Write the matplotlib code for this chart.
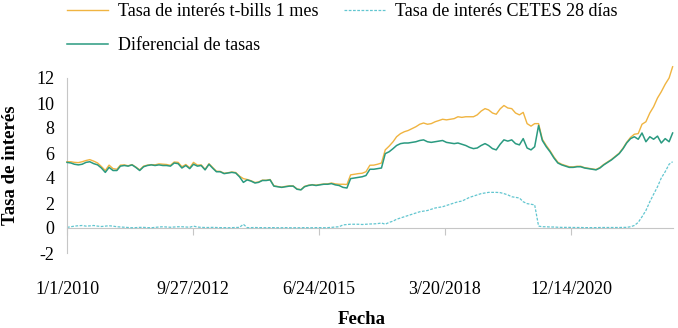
import matplotlib
matplotlib.use("Agg")
import matplotlib.pyplot as plt
import pandas as pd

# ---- data (monthly, from Jan 2010) ----
diferencial = [
    5.25, 5.2, 5.1, 5.05, 5.1, 5.25, 5.3, 5.15, 5.05, 4.8,
    4.45, 4.85, 4.6, 4.6, 4.95, 5.0, 4.95, 5.05, 4.85, 4.6,
    4.9, 5.0, 5.05, 5.0, 5.05, 5.0, 5.0, 4.95, 5.2, 5.15,
    4.8, 5.0, 4.75, 5.1, 4.95, 5.0, 4.65, 5.1, 4.8, 4.5,
    4.5, 4.35, 4.4, 4.45, 4.4, 4.1, 3.65, 3.85, 3.75, 3.6,
    3.65, 3.8, 3.8, 3.85, 3.35, 3.3, 3.25, 3.3, 3.35, 3.35,
    3.1, 3.05, 3.3, 3.4, 3.45, 3.4, 3.45, 3.5, 3.5, 3.55,
    3.45, 3.4, 3.25, 3.2, 3.95, 4.0, 4.05, 4.1, 4.2, 4.7,
    4.7, 4.75, 4.8, 5.95, 6.1, 6.35, 6.6, 6.75, 6.8, 6.8,
    6.85, 6.9, 7.0, 7.05, 6.9, 6.85, 6.9, 6.95, 7.0, 6.85,
    6.8, 6.75, 6.8, 6.7, 6.6, 6.45, 6.35, 6.4, 6.6, 6.75,
    6.6, 6.35, 6.25, 6.7, 7.05, 6.95, 7.05, 6.75, 6.65, 7.15,
    6.4, 6.25, 6.5, 8.2, 7.0, 6.5, 6.1, 5.6, 5.2, 5.05,
    4.95, 4.85, 4.85, 4.9, 4.9, 4.8, 4.75, 4.7, 4.65, 4.8,
    5.05, 5.25, 5.45, 5.7, 5.95, 6.35, 6.8, 7.15, 7.3, 7.1,
    7.6, 6.9, 7.3, 7.1, 7.35, 6.8, 7.15, 6.9, 7.6,
]

cetes_28 = [
    0.05, 0.1, 0.15, 0.18, 0.2, 0.15, 0.17, 0.2, 0.15, 0.12,
    0.15, 0.18, 0.15, 0.1, 0.08, 0.05, 0.03, 0.02, 0.03, 0.05,
    0.05, 0.03, 0.02, 0.05, 0.08, 0.1, 0.08, 0.06, 0.08, 0.1,
    0.1, 0.08, 0.06, 0.15, 0.08, 0.05, 0.04, 0.04, 0.05, 0.04,
    0.03, 0.03, 0.02, 0.03, 0.04, 0.05, 0.3, 0.03, 0.03, 0.04,
    0.03, 0.03, 0.02, 0.03, 0.03, 0.02, 0.02, 0.03, 0.02, 0.02,
    0.02, 0.02, 0.03, 0.02, 0.02, 0.03, 0.03, 0.02, 0.03, 0.05,
    0.08, 0.1, 0.25, 0.28, 0.3, 0.3, 0.3, 0.28, 0.3, 0.32,
    0.33, 0.35, 0.4, 0.3, 0.45, 0.55, 0.7, 0.8, 0.9, 1.0,
    1.1, 1.2, 1.3, 1.35, 1.4, 1.5, 1.6, 1.65, 1.7, 1.8,
    1.9, 2.0, 2.1, 2.15, 2.3, 2.45, 2.55, 2.65, 2.75, 2.8,
    2.85, 2.85, 2.85, 2.83, 2.75, 2.65, 2.5, 2.45, 2.4, 2.1,
    1.95, 1.9, 1.85, 0.15, 0.1, 0.1, 0.08, 0.08, 0.06, 0.05,
    0.05, 0.05, 0.04, 0.04, 0.04, 0.03, 0.03, 0.03, 0.03, 0.04,
    0.04, 0.04, 0.04, 0.04, 0.04, 0.05, 0.05, 0.1, 0.2, 0.45,
    0.9, 1.4, 2.1, 2.7, 3.3, 4.0, 4.5, 5.1, 5.3,
]

tbills_1m = [
    5.3, 5.3, 5.25, 5.23, 5.3, 5.4, 5.47, 5.35, 5.2, 4.92,
    4.6, 5.03, 4.75, 4.7, 5.03, 5.05, 4.98, 5.07, 4.88, 4.65,
    4.95, 5.03, 5.07, 5.05, 5.13, 5.1, 5.08, 5.01, 5.28, 5.25,
    4.9, 5.08, 4.81, 5.25, 5.03, 5.05, 4.69, 5.14, 4.85, 4.54,
    4.53, 4.38, 4.42, 4.48, 4.44, 4.15, 3.95, 3.88, 3.78, 3.64,
    3.68, 3.83, 3.82, 3.88, 3.38, 3.32, 3.27, 3.33, 3.37, 3.37,
    3.12, 3.07, 3.33, 3.42, 3.47, 3.43, 3.48, 3.52, 3.53, 3.6,
    3.53, 3.5, 3.5, 3.48, 4.25, 4.3, 4.35, 4.38, 4.5, 5.02,
    5.03, 5.1, 5.2, 6.25, 6.55, 6.9, 7.3, 7.55, 7.7, 7.8,
    7.95, 8.1, 8.3, 8.4, 8.3, 8.35, 8.5, 8.6, 8.7, 8.65,
    8.7, 8.75, 8.9, 8.85, 8.9, 8.9, 8.9, 9.05, 9.35, 9.55,
    9.45, 9.2, 9.1, 9.53, 9.8, 9.6, 9.55, 9.2, 9.05, 9.25,
    8.35, 8.15, 8.35, 8.35, 7.1, 6.6, 6.18, 5.68, 5.26, 5.1,
    5.0, 4.9, 4.89, 4.94, 4.94, 4.83, 4.78, 4.73, 4.68, 4.84,
    5.09, 5.29, 5.49, 5.74, 5.99, 6.4, 6.85, 7.25, 7.5, 7.55,
    8.3, 8.5, 9.2, 9.7, 10.4, 10.9, 11.5, 12.0, 12.9,
]

start_date = "2010-01-01"
tick_dates = ["2010-01-01", "2012-09-27", "2015-06-24", "2018-03-20", "2020-12-14"]
tick_labels = ["1/1/2010", "9/27/2012", "6/24/2015", "3/20/2018", "12/14/2020"]
y_ticks = [-2, 0, 2, 4, 6, 8, 10, 12]

label_tbills = "Tasa de interés t-bills 1 mes"
label_cetes = "Tasa de interés CETES 28 días"
label_dif = "Diferencial de tasas"

dates = pd.date_range(start_date, periods=len(diferencial), freq="MS")

plt.rcParams["font.family"] = ["Liberation Serif", "DejaVu Serif"]

W, H = 678, 328
fig = plt.figure(figsize=(W / 100, H / 100), dpi=100)
ax = fig.add_axes([67 / W, (H - 253) / H, 606 / W, 175 / H])

c_orange = "#F0B441"
c_teal = "#2A9A80"
c_cyan = "#62C6D0"
c_axis = "#C6C6C6"

l1, = ax.plot(dates, tbills_1m, color=c_orange, lw=1.0, clip_on=False, zorder=3,
              label=label_tbills)
l2, = ax.plot(dates, cetes_28, color=c_cyan, lw=0.9, ls=(0, (2.2, 1.2)), clip_on=False,
              zorder=2, label=label_cetes)
l3, = ax.plot(dates, diferencial, color=c_teal, lw=1.1, clip_on=False, zorder=4,
              label=label_dif)

t0 = pd.Timestamp(start_date)
ax.set_xlim(t0, t0 + pd.Timedelta(days=4810))
ax.set_ylim(-2, 12)

ax.set_yticks(y_ticks)
ax.set_yticklabels([str(v) for v in y_ticks])
ax.tick_params(axis="y", length=0, pad=9, labelsize=13)

ticks = pd.to_datetime(tick_dates)
ax.set_xticks(ticks)
ax.set_xticklabels(tick_labels)
ax.tick_params(axis="x", length=0, pad=20, labelsize=13)

for s in ["top", "right", "bottom"]:
    ax.spines[s].set_visible(False)
ax.spines["left"].set_color(c_axis)
ax.spines["left"].set_linewidth(0.8)

# zero axis line with tick marks
loc0 = (0 - (-2)) / (12 - (-2))
sec = ax.secondary_xaxis(loc0)
sec.set_xticks(ticks)
sec.set_xticklabels([])
sec.tick_params(axis="x", direction="out", length=5, width=0.8, color=c_axis)
sec.spines["bottom"].set_color(c_axis)
sec.spines["bottom"].set_linewidth(0.8)

fig.text(11 / W, (H - 165) / H, "Tasa de interés", rotation=90, fontsize=13.5,
         fontweight="bold", ha="center", va="center")
fig.text(362 / W, (H - 319) / H, "Fecha", fontsize=13.5, fontweight="bold",
         ha="center", va="center")

fig.legend(handles=[l1, l3, l2], labels=[label_tbills, label_dif, label_cetes],
           ncol=2, loc="upper left", bbox_to_anchor=(67 / W, 1.0 - 3 / H),
           frameon=False, fontsize=13, borderpad=0, borderaxespad=0,
           handlelength=2.25, handletextpad=0.55, columnspacing=1.45,
           labelspacing=0.95)

fig.savefig("out.png", dpi=100)
